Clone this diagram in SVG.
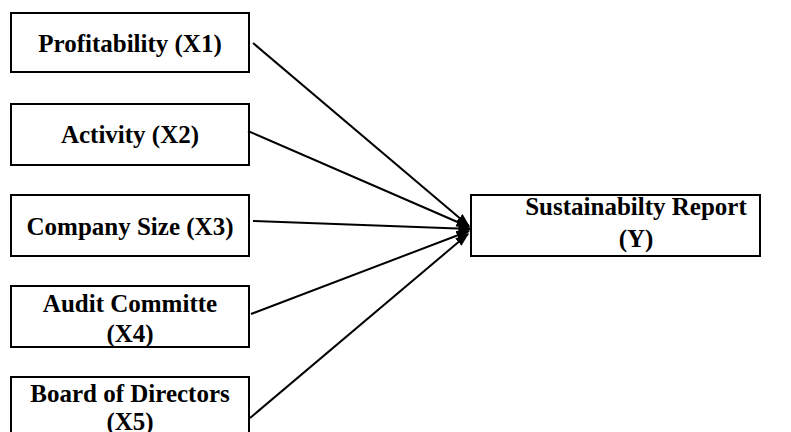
<svg xmlns="http://www.w3.org/2000/svg" width="791" height="432" viewBox="0 0 791 432">
<style>
.box{fill:#fff;stroke:#000;stroke-width:2}
.t{font-family:"Liberation Serif","Times New Roman",serif;font-weight:bold;font-size:25px;fill:#000;text-anchor:middle}
.c{stroke:#000;stroke-width:2;fill:none;marker-end:url(#ah)}
</style>
<defs>
<marker id="ah" viewBox="0 0 10 10" refX="9" refY="5" markerWidth="7" markerHeight="7" orient="auto" markerUnits="strokeWidth">
<path d="M0,1.5 L10,5 L0,8.5 z" fill="#000"/>
</marker>
</defs>
<g id="n1"><rect class="box" x="11" y="13" width="238" height="59"/><text class="t" x="130" y="52">Profitability (X1)</text></g>
<g id="n2"><rect class="box" x="11" y="104" width="238" height="61"/><text class="t" x="130" y="143">Activity (X2)</text></g>
<g id="n3"><rect class="box" x="11" y="195" width="238" height="61"/><text class="t" x="130" y="235">Company Size (X3)</text></g>
<g id="n4"><rect class="box" x="11" y="286" width="238" height="61"/><text class="t" x="130" y="312">Audit Committe</text><text class="t" x="130" y="342">(X4)</text></g>
<g id="n5"><rect class="box" x="11" y="377" width="238" height="61"/><text class="t" x="130" y="402">Board of Directors</text><text class="t" x="130" y="430">(X5)</text></g>
<g id="ny"><rect class="box" x="471" y="195" width="289" height="61"/><text class="t" x="636" y="215">Sustainabilty Report</text><text class="t" x="636" y="247">(Y)</text></g>
<g id="connectors">
<line class="c" x1="253" y1="43" x2="469" y2="226"/>
<line class="c" x1="248" y1="131" x2="469" y2="227"/>
<line class="c" x1="253" y1="221" x2="471" y2="229"/>
<line class="c" x1="251" y1="314" x2="469" y2="231"/>
<line class="c" x1="250" y1="418" x2="468" y2="234"/>
</g>
</svg>
